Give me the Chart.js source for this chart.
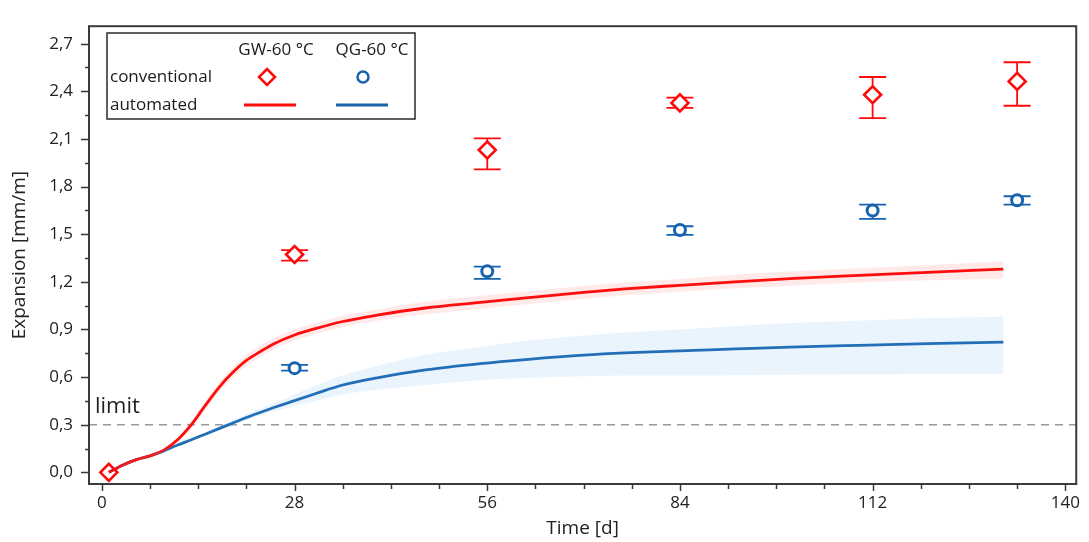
<!DOCTYPE html>
<html><head><meta charset="utf-8">
<script src="https://cdn.jsdelivr.net/npm/chart.js@4.4.0/dist/chart.umd.min.js"></script>
<style>html,body{margin:0;padding:0;background:#fff;}#wrap{width:1089px;height:542px;position:relative;}</style>
</head><body><div id="wrap"><canvas id="c" width="1089" height="542"></canvas></div>
<script>
// ---- data ----
const xTickValues = [0, 28, 56, 84, 112, 140];
const yTickValues = [0, 0.3, 0.6, 0.9, 1.2, 1.5, 1.8, 2.1, 2.4, 2.7];
const yTickLabels = ['0,0','0,3','0,6','0,9','1,2','1,5','1,8','2,1','2,4','2,7'];
const limitValue = 0.3;

const gwConvDays = [1, 28, 56, 84, 112, 133];
const gwConv     = [0.0, 1.372, 2.03, 2.327, 2.378, 2.462];
const gwConvLow  = [0.0, 1.333, 1.908, 2.295, 2.231, 2.309];
const gwConvHigh = [0.0, 1.399, 2.104, 2.36, 2.49, 2.583];

const qgConvDays = [28, 56, 84, 112, 133];
const qgConv     = [0.656, 1.266, 1.526, 1.649, 1.714];
const qgConvLow  = [0.64, 1.219, 1.495, 1.597, 1.686];
const qgConvHigh = [0.677, 1.296, 1.55, 1.686, 1.739];

const autoDays   = [1, 3, 5, 7, 9, 11, 13, 15, 17, 19, 21, 23, 25, 28, 31, 35, 40, 47, 55, 62, 70, 76, 84, 92, 100, 110, 120, 131];
const gwAuto     = [0.0, 0.045, 0.08, 0.104, 0.14, 0.205, 0.30, 0.42, 0.534, 0.628, 0.705, 0.76, 0.81, 0.865, 0.905, 0.95, 0.99, 1.035, 1.07, 1.10, 1.133, 1.155, 1.178, 1.20, 1.22, 1.24, 1.26, 1.28];
const gwAutoLow  = [0.0, 0.04, 0.072, 0.095, 0.13, 0.19, 0.28, 0.395, 0.505, 0.595, 0.67, 0.725, 0.775, 0.83, 0.87, 0.915, 0.955, 0.995, 1.03, 1.06, 1.093, 1.115, 1.138, 1.16, 1.175, 1.195, 1.21, 1.22];
const gwAutoHigh = [0.0, 0.05, 0.088, 0.113, 0.15, 0.22, 0.32, 0.445, 0.563, 0.66, 0.74, 0.795, 0.845, 0.90, 0.94, 0.985, 1.025, 1.075, 1.11, 1.14, 1.173, 1.195, 1.218, 1.245, 1.265, 1.285, 1.305, 1.33];

const qgAuto     = [0.0, 0.045, 0.08, 0.104, 0.135, 0.172, 0.205, 0.24, 0.275, 0.31, 0.345, 0.377, 0.408, 0.452, 0.495, 0.55, 0.595, 0.645, 0.685, 0.712, 0.738, 0.752, 0.765, 0.777, 0.789, 0.80, 0.81, 0.82];
const qgAutoLow  = [0.0, 0.04, 0.075, 0.098, 0.128, 0.165, 0.197, 0.23, 0.263, 0.296, 0.328, 0.357, 0.383, 0.417, 0.45, 0.49, 0.52, 0.55, 0.58, 0.595, 0.605, 0.61, 0.61, 0.612, 0.615, 0.617, 0.62, 0.62];
const qgAutoHigh = [0.0, 0.05, 0.085, 0.11, 0.142, 0.18, 0.213, 0.25, 0.288, 0.325, 0.365, 0.40, 0.435, 0.49, 0.545, 0.61, 0.67, 0.74, 0.79, 0.83, 0.86, 0.88, 0.90, 0.92, 0.94, 0.955, 0.97, 0.98];

// ---- styles ----
const RED = '#ff0a0a';
const BLUE = '#1763ad';
const FONT = "'Open Sans', sans-serif";

const pts = (xs, ys) => xs.map((x, i) => ({x: x, y: ys[i]}));

function drawErrorBars(chart, days, lows, highs, color) {
  const ctx = chart.ctx, xs = chart.scales.x, ys = chart.scales.y;
  ctx.save();
  ctx.strokeStyle = color; ctx.lineWidth = 1.8;
  for (let i = 0; i < days.length; i++) {
    if (lows[i] === highs[i]) continue;
    const px = xs.getPixelForValue(days[i]);
    const pl = ys.getPixelForValue(lows[i]);
    const ph = ys.getPixelForValue(highs[i]);
    ctx.beginPath();
    ctx.moveTo(px, ph); ctx.lineTo(px, pl);
    ctx.moveTo(px - 13.5, ph); ctx.lineTo(px + 13.5, ph);
    ctx.moveTo(px - 13.5, pl); ctx.lineTo(px + 13.5, pl);
    ctx.stroke();
  }
  ctx.restore();
}

const deco = {
  id: 'deco',
  beforeDatasetsDraw(chart) {
    const {ctx, chartArea: a} = chart;
    const y = chart.scales.y.getPixelForValue(limitValue);
    ctx.save();
    ctx.strokeStyle = '#9a9a9a'; ctx.lineWidth = 1.6; ctx.setLineDash([8, 6]);
    ctx.beginPath(); ctx.moveTo(a.left, y); ctx.lineTo(a.right, y); ctx.stroke();
    ctx.restore();
  },
  beforeDatasetDraw(chart, args) {
    if (args.index === 6) drawErrorBars(chart, gwConvDays, gwConvLow, gwConvHigh, RED);
    if (args.index === 7) drawErrorBars(chart, qgConvDays, qgConvLow, qgConvHigh, BLUE);
  },
  afterDraw(chart) {
    const {ctx, chartArea: a} = chart;
    const xs = chart.scales.x, ys = chart.scales.y;
    ctx.save();
    // frame
    ctx.strokeStyle = '#3a3a3a'; ctx.lineWidth = 2;
    ctx.strokeRect(a.left, a.top, a.right - a.left, a.bottom - a.top);
    // ticks
    ctx.lineWidth = 1.5; ctx.strokeStyle = '#3a3a3a';
    ctx.beginPath();
    for (let v = 0; v <= 2.7001; v += 0.15) {
      const major = Math.abs(v / 0.3 - Math.round(v / 0.3)) < 1e-6;
      const py = Math.round(ys.getPixelForValue(v)) + 0.5;
      ctx.moveTo(a.left, py); ctx.lineTo(a.left - (major ? 8 : 4), py);
    }
    for (let d = 0; d <= 140; d += 7) {
      const major = d % 28 === 0;
      const px = Math.round(xs.getPixelForValue(d)) + 0.5;
      ctx.moveTo(px, a.bottom); ctx.lineTo(px, a.bottom + (major ? 7 : 5));
    }
    ctx.stroke();
    // limit label
    ctx.fillStyle = '#222'; ctx.font = "22px " + FONT;
    ctx.textAlign = 'left'; ctx.textBaseline = 'alphabetic';
    ctx.fillText('limit', 95, 413);
    // legend
    ctx.fillStyle = '#fff';
    ctx.fillRect(107, 33, 308, 86);
    ctx.strokeStyle = '#2a2a2a'; ctx.lineWidth = 1.5;
    ctx.strokeRect(107, 33, 308, 86);
    ctx.fillStyle = '#1a1a1a'; ctx.font = "17px " + FONT; ctx.textBaseline = 'middle';
    ctx.textAlign = 'center';
    ctx.fillText('GW-60 °C', 276, 50);
    ctx.fillText('QG-60 °C', 372, 50);
    ctx.textAlign = 'left';
    ctx.fillText('conventional', 110, 77);
    ctx.fillText('automated', 110, 105);
    // legend markers
    ctx.lineWidth = 2.5; ctx.strokeStyle = RED;
    ctx.beginPath();
    ctx.moveTo(267, 69); ctx.lineTo(275, 77); ctx.lineTo(267, 85); ctx.lineTo(259, 77); ctx.closePath();
    ctx.stroke();
    ctx.strokeStyle = BLUE;
    ctx.beginPath(); ctx.arc(363, 77, 5.5, 0, Math.PI * 2); ctx.stroke();
    ctx.lineWidth = 3;
    ctx.strokeStyle = RED;
    ctx.beginPath(); ctx.moveTo(244, 105); ctx.lineTo(296, 105); ctx.stroke();
    ctx.strokeStyle = BLUE;
    ctx.beginPath(); ctx.moveTo(336, 105); ctx.lineTo(388, 105); ctx.stroke();
    ctx.restore();
  }
};

const lineBase = {showLine: true, pointRadius: 0, pointHoverRadius: 0, cubicInterpolationMode: 'monotone'};

new Chart(document.getElementById('c'), {
  type: 'scatter',
  data: {
    datasets: [
      Object.assign({label: 'GW band high', data: pts(autoDays, gwAutoHigh), borderWidth: 0, borderColor: 'rgba(0,0,0,0)', backgroundColor: 'rgba(255,40,40,0.10)', fill: '+1'}, lineBase),
      Object.assign({label: 'GW band low', data: pts(autoDays, gwAutoLow), borderWidth: 0, borderColor: 'rgba(0,0,0,0)', fill: false}, lineBase),
      Object.assign({label: 'QG band high', data: pts(autoDays, qgAutoHigh), borderWidth: 0, borderColor: 'rgba(0,0,0,0)', backgroundColor: 'rgba(110,180,240,0.15)', fill: '+1'}, lineBase),
      Object.assign({label: 'QG band low', data: pts(autoDays, qgAutoLow), borderWidth: 0, borderColor: 'rgba(0,0,0,0)', fill: false}, lineBase),
      Object.assign({label: 'GW-60 °C automated', data: pts(autoDays, gwAuto), borderWidth: 2.8, borderColor: RED, fill: false}, lineBase),
      Object.assign({label: 'QG-60 °C automated', data: pts(autoDays, qgAuto), borderWidth: 2.8, borderColor: BLUE, fill: false}, lineBase),
      {label: 'GW-60 °C conventional', data: pts(gwConvDays, gwConv), showLine: false, pointStyle: 'rectRot', pointRadius: 8.5, borderWidth: 2.6, borderColor: RED, backgroundColor: '#fff'},
      {label: 'QG-60 °C conventional', data: pts(qgConvDays, qgConv), showLine: false, pointStyle: 'circle', pointRadius: 5.5, borderWidth: 3, borderColor: BLUE, backgroundColor: '#fff'}
    ]
  },
  options: {
    responsive: false, animation: false,
    layout: {padding: {top: 14, right: 6, left: 0, bottom: 0}},
    plugins: {legend: {display: false}, tooltip: {enabled: false}, filler: {propagate: false}},
    scales: {
      x: {
        type: 'linear', min: -1.876, max: 141.59,
        afterBuildTicks: s => { s.ticks = xTickValues.map(v => ({value: v})); },
        afterFit: s => { s.height = 58; },
        ticks: {callback: v => String(v), font: {family: FONT, size: 17}, color: '#222', padding: 9, maxRotation: 0, autoSkip: false},
        grid: {display: false, drawTicks: false},
        border: {display: false},
        title: {display: true, text: 'Time [d]', font: {family: FONT, size: 19}, color: '#222', padding: {top: 0, bottom: 2}}
      },
      y: {
        type: 'linear', min: -0.0736, max: 2.81,
        afterBuildTicks: s => { s.ticks = yTickValues.map(v => ({value: v})); },
        afterFit: s => { s.width = 89; },
        ticks: {callback: (v, i) => yTickLabels[i], font: {family: FONT, size: 17}, color: '#222', padding: 16},
        grid: {display: false, drawTicks: false},
        border: {display: false},
        title: {display: true, text: 'Expansion [mm/m]', font: {family: FONT, size: 19}, color: '#222', padding: {top: 8, bottom: 0}}
      }
    }
  },
  plugins: [deco]
});
</script>
</body></html>
